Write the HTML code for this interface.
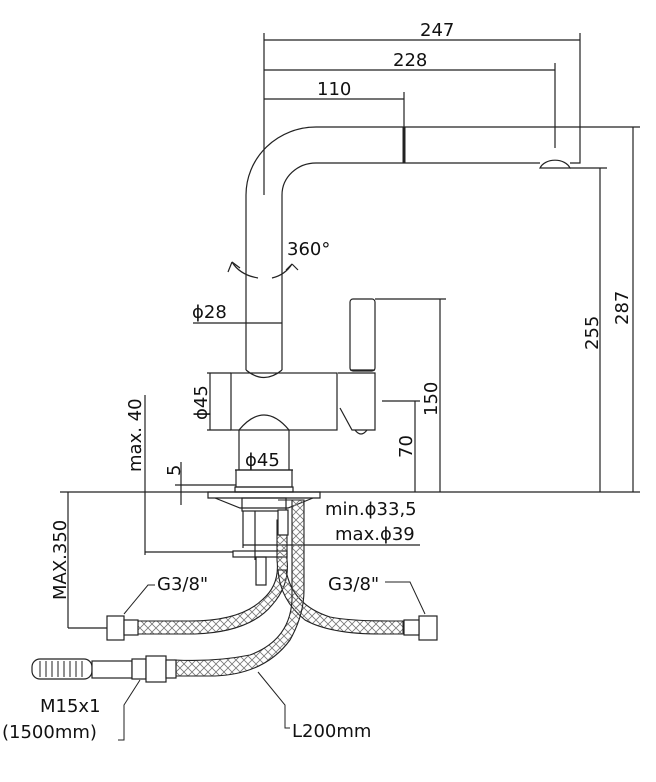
<!DOCTYPE html>
<html><head><style>body{margin:0;background:#fff}svg{display:block}text{font-family:"DejaVu Sans","Liberation Sans",sans-serif;font-size:18px;fill:#111}</style></head>
<body>
<svg width="656" height="782" viewBox="0 0 656 782" xmlns="http://www.w3.org/2000/svg">
<defs>
<pattern id="hatch" width="8" height="8" patternUnits="userSpaceOnUse"><path d="M0 0L8 8M8 0L0 8" stroke="#777" stroke-width="0.8"/></pattern>
</defs>
<g fill="none" stroke="#222" stroke-width="1.2">
<line x1="264" y1="33" x2="264" y2="195"/>
<line x1="264" y1="40" x2="580" y2="40"/><line x1="580" y1="33" x2="580" y2="127"/>
<line x1="264" y1="70" x2="555" y2="70"/><line x1="555" y1="63" x2="555" y2="148"/>
<line x1="264" y1="99" x2="404" y2="99"/><line x1="404" y1="92" x2="404" y2="127"/>
<path d="M246 370 V195 A70 68 0 0 1 316 127 H580 V163 H570"/>
<path d="M282 370 V195 A34 32 0 0 1 316 163 H540"/>
<path d="M540 168 A16 12 0 0 1 570 168 H540 Z"/>
<line x1="404" y1="127" x2="404" y2="163" stroke-width="3"/>
<line x1="580" y1="127" x2="640" y2="127"/><line x1="633" y1="127" x2="633" y2="492"/>
<line x1="570" y1="168" x2="607" y2="168"/><line x1="600" y1="168" x2="600" y2="492"/>
<path d="M232 262 Q240 275 258 278"/><path d="M272 278 Q285 275 292 264"/>
<path d="M232 262 L228 272 M232 262 L240 268"/><path d="M292 264 L298 270 M292 264 L286 270"/>
<path d="M246 370 Q264 385 282 370"/>
<rect x="231" y="373" width="106" height="57"/>
<path d="M239 430 V470 M289 430 V470"/>
<path d="M239 430 Q264 400 289 430" />
<rect x="236" y="470" width="56" height="17"/>
<rect x="235" y="487" width="58" height="5"/>
<rect x="350" y="299" width="25" height="72" rx="3"/>
<line x1="350" y1="370" x2="375" y2="370"/>
<path d="M338 373 H375 V430 H352 L340 408"/>
<path d="M355 430 Q361 438 367 430"/>
<line x1="60" y1="492" x2="640" y2="492"/>
<path d="M208 492 H320 V498 H208 Z"/>
<path d="M215 498 L240 508 H288 L313 498"/>
<rect x="242" y="498" width="44" height="13"/>
<line x1="243" y1="511" x2="243" y2="548"/><line x1="255" y1="511" x2="255" y2="560"/>
<rect x="233" y="551" width="54" height="6"/>
<rect x="256" y="557" width="10" height="28"/>
<line x1="375" y1="299" x2="446" y2="299"/><line x1="440" y1="299" x2="440" y2="492"/>
<line x1="382" y1="401" x2="420" y2="401"/><line x1="415" y1="401" x2="415" y2="492"/>
<line x1="193" y1="323" x2="282" y2="323"/>
<line x1="207" y1="373" x2="231" y2="373"/><line x1="207" y1="430" x2="231" y2="430"/><line x1="210" y1="373" x2="210" y2="430"/>
<line x1="235" y1="470" x2="293" y2="470"/>
<line x1="145" y1="395" x2="145" y2="555"/><line x1="145" y1="552" x2="233" y2="552"/>
<line x1="181" y1="462" x2="181" y2="505"/><line x1="175" y1="485" x2="236" y2="485"/>
<line x1="243" y1="545" x2="420" y2="545"/>
<line x1="68" y1="492" x2="68" y2="628"/><line x1="68" y1="628" x2="108" y2="628"/>
</g>
<g stroke="#222" stroke-width="1.1" fill="url(#hatch)">
<path d="M277 520 V560 Q280 585 262 600 Q240 621 190 621 H127 V634 H195 Q250 632 272 605 Q290 585 287 560 V520 Z"/>
<path d="M286 570 Q292 605 330 617 Q350 621 390 621 H403 V634 H380 Q330 634 305 620 Q280 600 278 570 Z"/>
<path d="M278 500 H292 V600 Q290 640 250 655 Q215 662 175 660 V676 H215 Q265 674 290 640 Q304 615 304 590 V500 Z"/>
</g>
<g fill="#fff" stroke="#222" stroke-width="1.2">
<rect x="107" y="616" width="17" height="24"/><rect x="124" y="620" width="14" height="15"/>
<rect x="419" y="616" width="18" height="24"/><rect x="404" y="620" width="15" height="15"/>
<rect x="32" y="659" width="60" height="20" rx="8"/>
<rect x="92" y="661" width="40" height="17"/>
<rect x="132" y="659" width="14" height="20"/><rect x="146" y="656" width="20" height="26"/><rect x="166" y="660" width="10" height="18"/>
<rect x="278" y="510" width="10" height="25"/>
</g>
<g stroke="#222" stroke-width="1" fill="none">
<path d="M40 661v16M46 661v16M52 661v16M58 661v16M64 661v16M70 661v16M76 661v16M82 661v16"/>
<path d="M124 614 L148 585 H155"/><path d="M425 614 L410 582 H385"/>
<path d="M140 680 L124 705 V740 H118"/><path d="M258 672 L285 705 V728 H290"/>
</g>
<g>
<text x="420" y="36">247</text><text x="393" y="66">228</text><text x="317" y="95">110</text>
<text x="287" y="255">360°</text>
<text x="192" y="318">ϕ28</text>
<text x="245" y="466">ϕ45</text>
<text x="325" y="515">min.ϕ33,5</text>
<text x="335" y="540">max.ϕ39</text>
<text x="157" y="590">G3/8"</text><text x="328" y="590">G3/8"</text>
<text x="40" y="712">M15x1</text><text x="2" y="738">(1500mm)</text>
<text x="292" y="737">L200mm</text>
<text transform="translate(207,420) rotate(-90)">ϕ45</text>
<text transform="translate(141,472) rotate(-90)">max. 40</text>
<text transform="translate(180,476) rotate(-90)">5</text>
<text transform="translate(66,600) rotate(-90)">MAX.350</text>
<text transform="translate(437,416) rotate(-90)">150</text>
<text transform="translate(412,458) rotate(-90)">70</text>
<text transform="translate(598,350) rotate(-90)">255</text>
<text transform="translate(628,325) rotate(-90)">287</text>
</g>
</svg>
</body></html>
